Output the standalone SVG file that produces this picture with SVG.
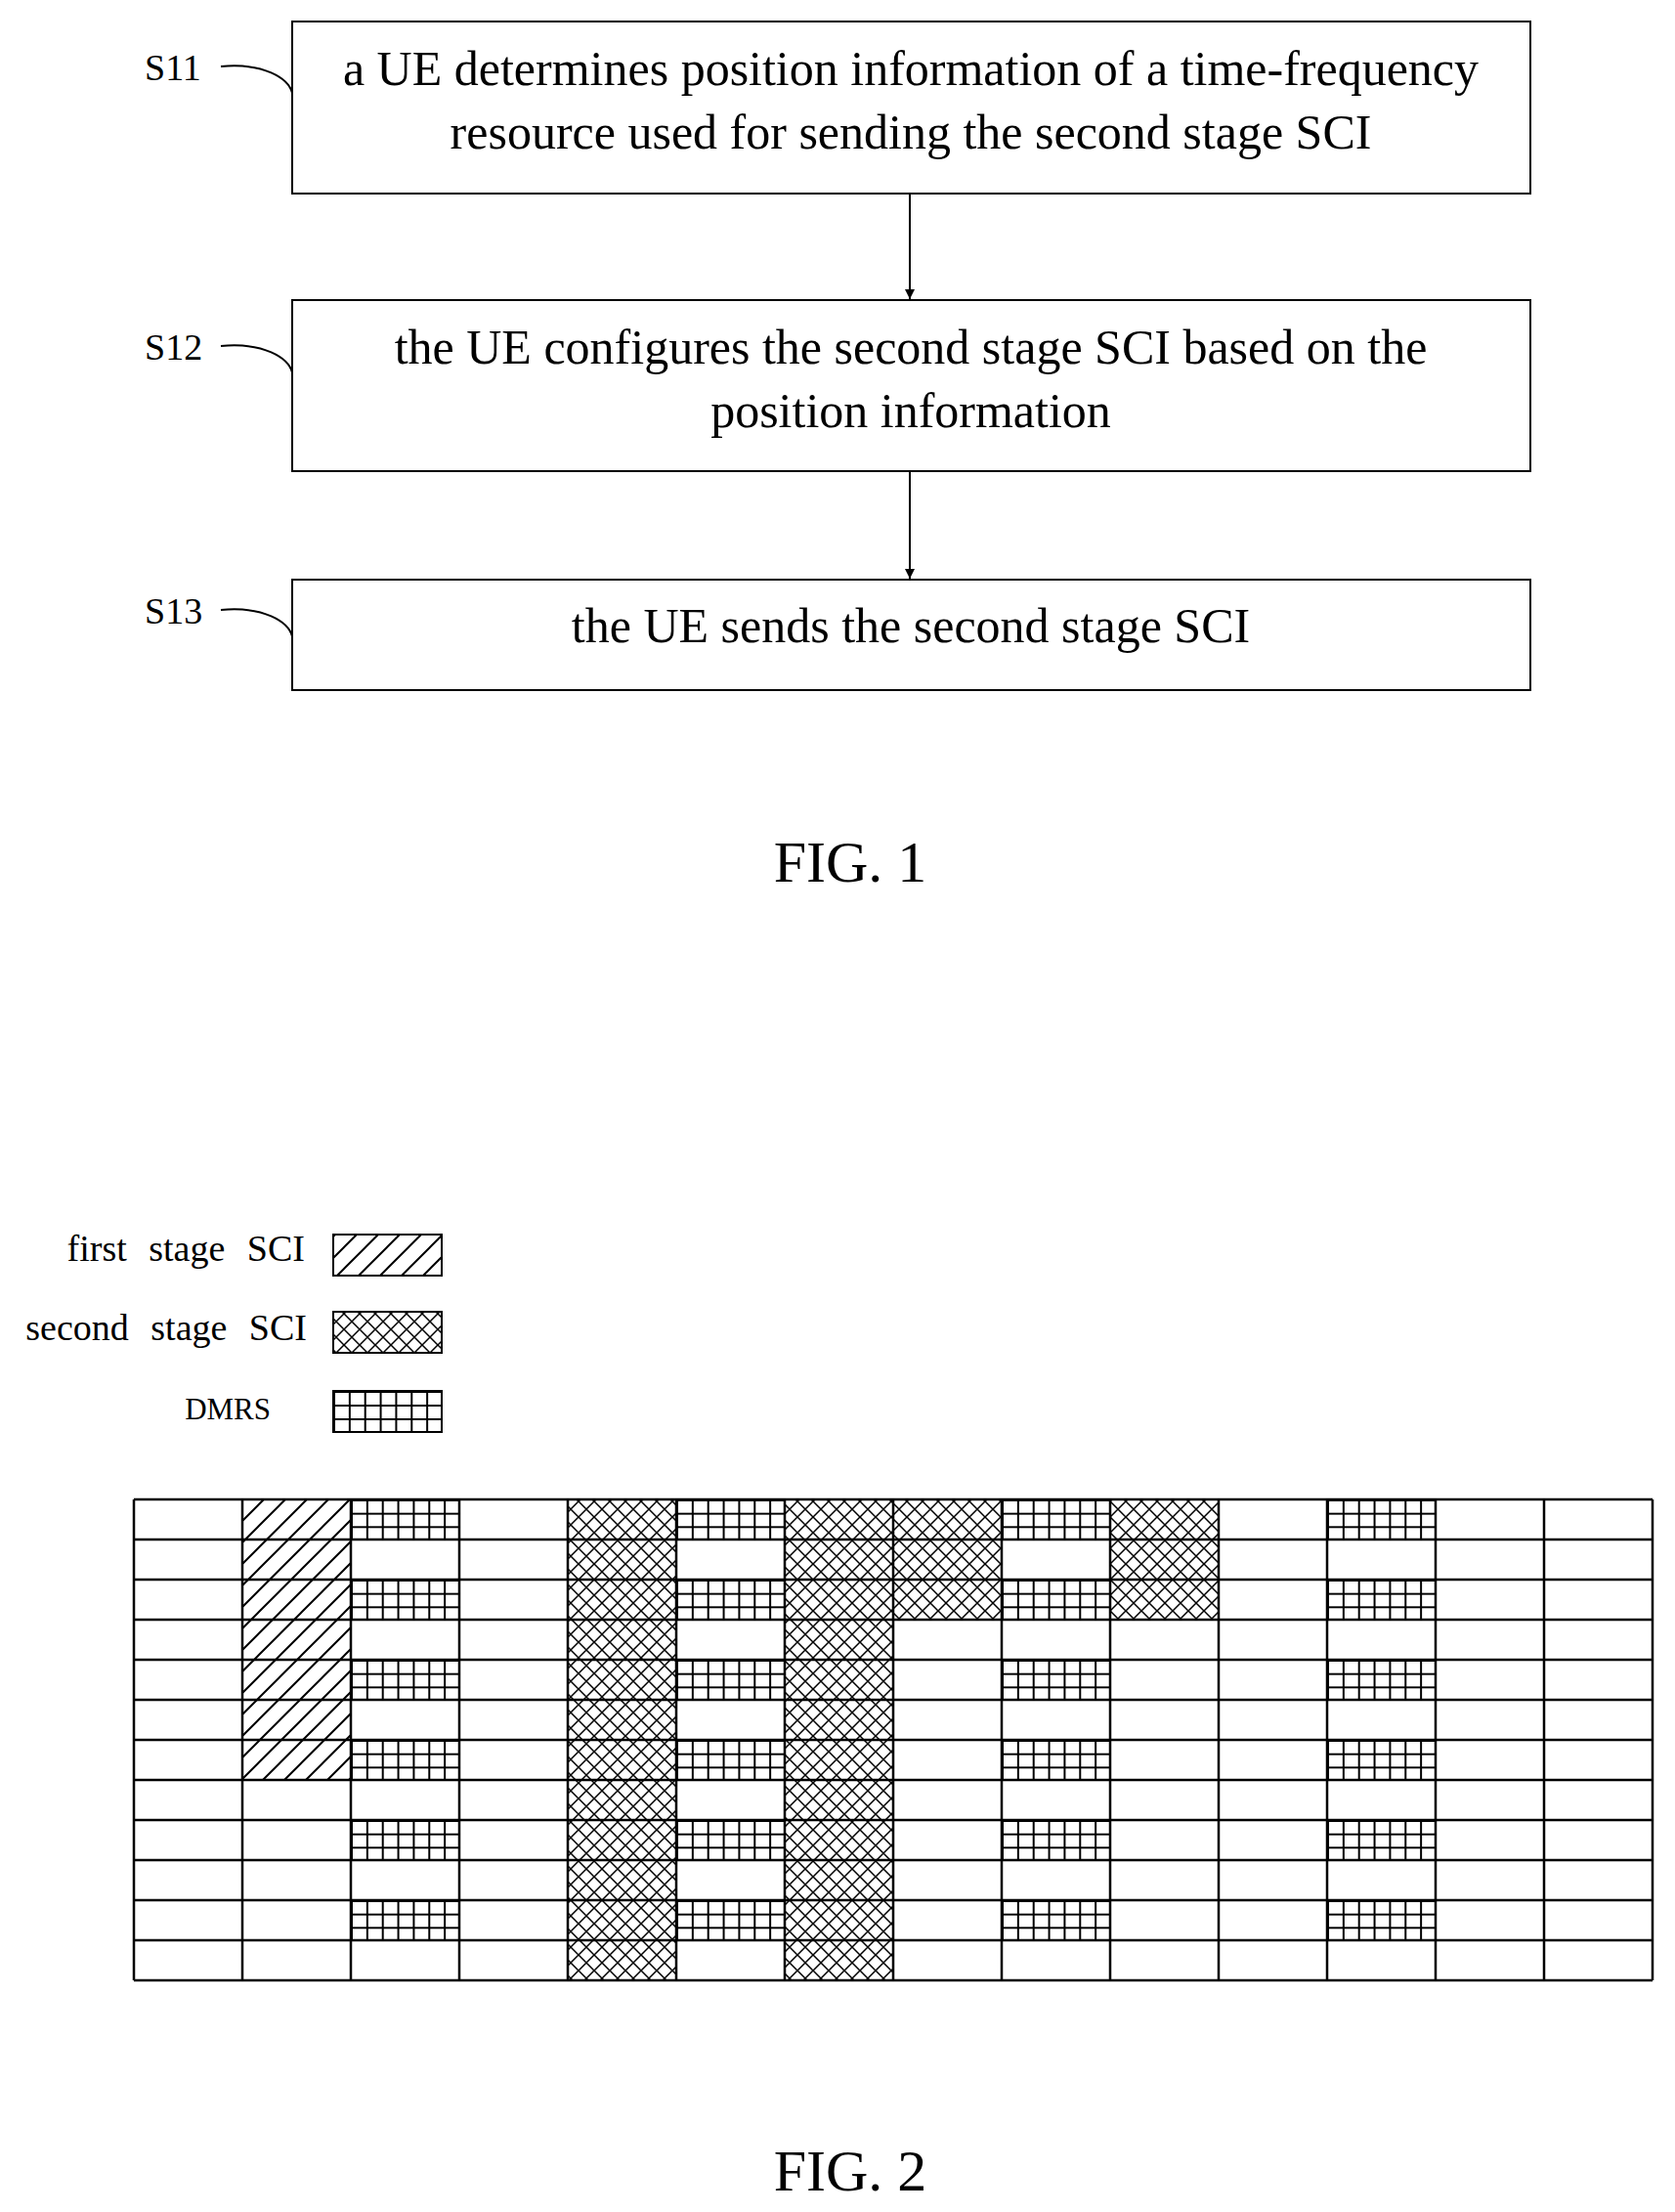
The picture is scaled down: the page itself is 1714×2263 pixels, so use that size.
<svg xmlns="http://www.w3.org/2000/svg" width="1714" height="2263" viewBox="0 0 1714 2263">
<style>
text{font-family:"Liberation Serif","Times New Roman",serif;fill:#000}
.box{fill:#fff;stroke:#000;stroke-width:2}
.t{font-size:50px;text-anchor:middle}
.lab{font-size:38px}
.leg{font-size:38px;text-anchor:end;word-spacing:13px}
.fig{font-size:60px;text-anchor:middle}
.conn{stroke:#000;stroke-width:2;fill:none}
.cell{stroke:#000;stroke-width:2.5}
</style>
<defs>
<marker id="arr" markerWidth="12" markerHeight="12" refX="10" refY="5" orient="auto" markerUnits="userSpaceOnUse"><path d="M0,0 L10,5 L0,10 Z" fill="#000"/></marker>
<pattern id="diag" patternUnits="userSpaceOnUse" width="22" height="22" x="0" y="0"><path d="M-4,4 L4,-4 M0,22 L22,0 M18,26 L26,18" stroke="#000" stroke-width="2"/></pattern>
<pattern id="cross" patternUnits="userSpaceOnUse" width="16" height="16"><path d="M0,16 L16,0 M-3,3 L3,-3 M13,19 L19,13 M0,0 L16,16 M-3,13 L3,19 M13,-3 L19,3" stroke="#000" stroke-width="1.5"/></pattern>
<pattern id="grid" patternUnits="userSpaceOnUse" x="137" y="1534" width="15.857" height="13.667"><path d="M0,0 V13.667 M0,0 H15.857" stroke="#000" stroke-width="4"/></pattern>
<pattern id="gridL" patternUnits="userSpaceOnUse" x="341" y="1423" width="15.857" height="14"><path d="M0,0 V14 M0,0 H15.857" stroke="#000" stroke-width="4"/></pattern>
</defs>

<g id="S11"><rect class="box" x="299" y="22" width="1267" height="176"/>
<text class="t" x="932" y="87">a UE determines position information of a time-frequency</text>
<text class="t" x="932" y="152">resource used for sending the second stage SCI</text>
<text class="lab" x="148" y="82">S11</text></g>
<g id="S12"><rect class="box" x="299" y="307" width="1267" height="175"/>
<text class="t" x="932" y="372">the UE configures the second stage SCI based on the</text>
<text class="t" x="932" y="437">position information</text>
<text class="lab" x="148" y="368">S12</text></g>
<g id="S13"><rect class="box" x="299" y="593" width="1267" height="113"/>
<text class="t" x="932" y="657">the UE sends the second stage SCI</text>
<text class="lab" x="148" y="638">S13</text></g>

<g id="connectors">
<line class="conn" x1="931" y1="198" x2="931" y2="306" marker-end="url(#arr)"/>
<line class="conn" x1="931" y1="482" x2="931" y2="592" marker-end="url(#arr)"/>
<path class="conn" d="M226,68 C270,64 295,80 299,95"/>
<path class="conn" d="M226,354 C270,350 295,366 299,381"/>
<path class="conn" d="M226,624 C270,620 295,636 299,651"/>
</g>
<text class="fig" x="870" y="902">FIG. 1</text>

<g id="legend">
<text class="leg" x="312" y="1290">first stage SCI</text>
<rect x="341" y="1263" width="111" height="42" fill="url(#diag)" stroke="#000" stroke-width="2"/>
<text class="leg" x="314" y="1371">second stage SCI</text>
<rect x="341" y="1342" width="111" height="42" fill="url(#cross)" stroke="#000" stroke-width="2"/>
<text class="leg" x="277" y="1452" style="font-size:31px">DMRS</text>
<rect x="341" y="1423" width="111" height="42" fill="url(#gridL)" stroke="#000" stroke-width="2"/>
</g>

<g id="resource-grid">
<rect x="248" y="1534" width="111" height="287" fill="url(#diag)"/>
<rect x="581" y="1534" width="111" height="492" fill="url(#cross)"/>
<rect x="803" y="1534" width="111" height="492" fill="url(#cross)"/>
<rect x="914" y="1534" width="111" height="123" fill="url(#cross)"/>
<rect x="1136" y="1534" width="111" height="123" fill="url(#cross)"/>
<g fill="url(#grid)">
<rect x="359" y="1534" width="111" height="41"/><rect x="359" y="1616" width="111" height="41"/><rect x="359" y="1698" width="111" height="41"/><rect x="359" y="1780" width="111" height="41"/><rect x="359" y="1862" width="111" height="41"/><rect x="359" y="1944" width="111" height="41"/>
<rect x="692" y="1534" width="111" height="41"/><rect x="692" y="1616" width="111" height="41"/><rect x="692" y="1698" width="111" height="41"/><rect x="692" y="1780" width="111" height="41"/><rect x="692" y="1862" width="111" height="41"/><rect x="692" y="1944" width="111" height="41"/>
<rect x="1025" y="1534" width="111" height="41"/><rect x="1025" y="1616" width="111" height="41"/><rect x="1025" y="1698" width="111" height="41"/><rect x="1025" y="1780" width="111" height="41"/><rect x="1025" y="1862" width="111" height="41"/><rect x="1025" y="1944" width="111" height="41"/>
<rect x="1358" y="1534" width="111" height="41"/><rect x="1358" y="1616" width="111" height="41"/><rect x="1358" y="1698" width="111" height="41"/><rect x="1358" y="1780" width="111" height="41"/><rect x="1358" y="1862" width="111" height="41"/><rect x="1358" y="1944" width="111" height="41"/>
</g>
<g class="cell">
<path d="M137,1534 H1691 M137,1575 H1691 M137,1616 H1691 M137,1657 H1691 M137,1698 H1691 M137,1739 H1691 M137,1780 H1691 M137,1821 H1691 M137,1862 H1691 M137,1903 H1691 M137,1944 H1691 M137,1985 H1691 M137,2026 H1691"/>
<path d="M137,1534 V2026 M248,1534 V2026 M359,1534 V2026 M470,1534 V2026 M581,1534 V2026 M692,1534 V2026 M803,1534 V2026 M914,1534 V2026 M1025,1534 V2026 M1136,1534 V2026 M1247,1534 V2026 M1358,1534 V2026 M1469,1534 V2026 M1580,1534 V2026 M1691,1534 V2026"/>
</g>
</g>
<text class="fig" x="870" y="2241">FIG. 2</text>
</svg>
